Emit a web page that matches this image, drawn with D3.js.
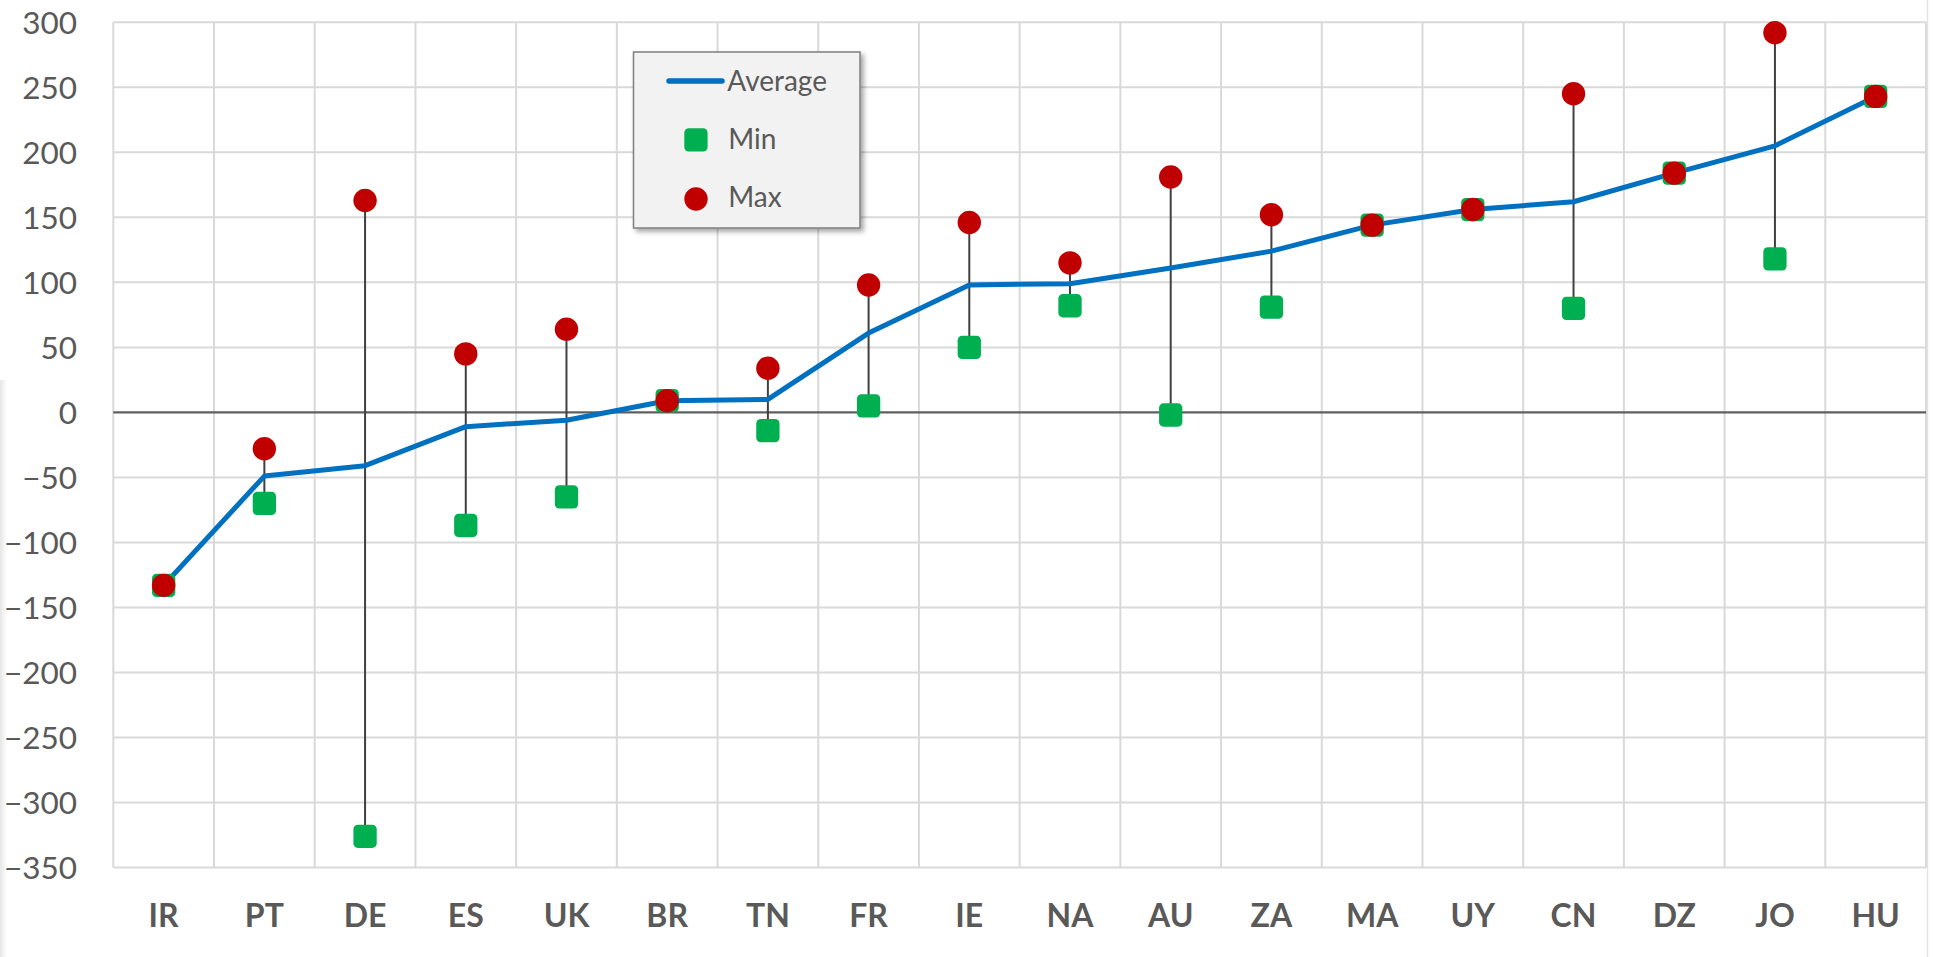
<!DOCTYPE html>
<html>
<head>
<meta charset="utf-8">
<script src="https://cdn.jsdelivr.net/npm/d3@7/dist/d3.min.js"></script>
<style>
  html, body { margin: 0; padding: 0; background: #ffffff; }
  svg { display: block; }
  text { font-family: Lato, "Open Sans", sans-serif; }
</style>
</head>
<body>
<svg id="chart" width="1933" height="957"></svg>
<script>
// Country codes along the x axis
const categories = ["IR", "PT", "DE", "ES", "UK", "BR", "TN", "FR", "IE", "NA", "AU", "ZA", "MA", "UY", "CN", "DZ", "JO", "HU"];
// Series values per country
const averageValues = [-133, -49, -41, -11, -6, 9, 10, 61, 98, 99, 111, 124, 144, 156, 162, 184, 205, 243];
const minValues     = [-133, -70, -326, -87, -65, 9, -14, 5, 50, 82, -2, 81, 144, 156, 80, 184, 118, 243];
const maxValues     = [-133, -28, 163, 45, 64, 9, 34, 98, 146, 115, 181, 152, 144, 156, 245, 184, 292, 243];
// Value axis ticks
const yTicks = [300, 250, 200, 150, 100, 50, 0, -50, -100, -150, -200, -250, -300, -350];

const svg = d3.select("#chart");
const W = 1933, H = 957;
const plot = { left: 113.3, right: 1926, top: 22.3, bottom: 867.5 };

const x = d3.scaleBand().domain(categories).range([plot.left, plot.right]).padding(0);
const y = d3.scaleLinear().domain([-350, 300]).range([plot.bottom, plot.top]);

const rows = categories.map((c, i) => ({ c, avg: averageValues[i], min: minValues[i], max: maxValues[i] }));

// Faint shading along the left edge of the canvas
const defs = svg.append("defs");
const edge = defs.append("linearGradient").attr("id", "edgeShade").attr("x1", 0).attr("x2", 1);
edge.append("stop").attr("offset", 0).attr("stop-color", "#e6e6e6");
edge.append("stop").attr("offset", 1).attr("stop-color", "#ffffff");
svg.append("rect").attr("x", 0).attr("y", 380).attr("width", 7).attr("height", H - 380).attr("fill", "url(#edgeShade)");
svg.append("line").attr("x1", 1927.5).attr("x2", 1927.5).attr("y1", 0).attr("y2", H)
  .attr("stroke", "#e4e4e4").attr("stroke-width", 1.5);

// Gridlines
const grid = svg.append("g");
grid.selectAll("line.h").data(yTicks.filter(t => t !== 0)).join("line")
  .attr("x1", plot.left).attr("x2", plot.right)
  .attr("y1", d => y(d)).attr("y2", d => y(d))
  .attr("stroke", "#d9d9d9").attr("stroke-width", 2);
const bounds = categories.map(c => x(c)).concat([plot.right]);
grid.selectAll("line.v").data(bounds).join("line")
  .attr("x1", d => d).attr("x2", d => d)
  .attr("y1", plot.top).attr("y2", plot.bottom)
  .attr("stroke", "#d9d9d9").attr("stroke-width", 2);

// Zero line
svg.append("line").attr("x1", plot.left).attr("x2", plot.right)
  .attr("y1", y(0)).attr("y2", y(0))
  .attr("stroke", "#5f5f5f").attr("stroke-width", 2.2);

// Y axis labels
const yAxis = d3.axisLeft(y).tickValues(yTicks).tickSize(0).tickPadding(0).tickFormat(d3.format("d"));
const yg = svg.append("g").attr("transform", "translate(77,0)").call(yAxis);
yg.select(".domain").remove();
yg.selectAll("text")
  .attr("font-family", "Lato, 'Open Sans', sans-serif")
  .attr("font-size", 31.5).attr("fill", "#595959")
  .attr("dy", "0.36em");

// X axis labels
const xAxis = d3.axisBottom(x).tickSize(0).tickPadding(0);
const xg = svg.append("g").attr("transform", "translate(0,926.7)").call(xAxis);
xg.select(".domain").remove();
xg.selectAll("text")
  .attr("font-family", "Lato, 'Open Sans', sans-serif")
  .attr("font-size", 32).attr("font-weight", "bold").attr("fill", "#595959")
  .attr("dy", 0).attr("y", 0);

const cx = d => x(d.c) + x.bandwidth() / 2;

// High-low lines between min and max
svg.append("g").selectAll("line").data(rows.filter(d => d.max !== d.min)).join("line")
  .attr("x1", cx).attr("x2", cx)
  .attr("y1", d => y(d.max)).attr("y2", d => y(d.min))
  .attr("stroke", "#404040").attr("stroke-width", 2);

// Average line
const line = d3.line().x(cx).y(d => y(d.avg));
svg.append("path").datum(rows).attr("d", line)
  .attr("fill", "none").attr("stroke", "#0070c0").attr("stroke-width", 5)
  .attr("stroke-linejoin", "round").attr("stroke-linecap", "round");

// Min markers
const sq = 23.3;
svg.append("g").selectAll("rect").data(rows).join("rect")
  .attr("x", d => cx(d) - sq / 2).attr("y", d => y(d.min) - sq / 2)
  .attr("width", sq).attr("height", sq).attr("rx", 4.5)
  .attr("fill", "#00b050");

// Max markers
svg.append("g").selectAll("circle").data(rows).join("circle")
  .attr("cx", cx).attr("cy", d => y(d.max)).attr("r", 11.7)
  .attr("fill", "#c00000");

// Legend
const shadow = defs.append("filter").attr("id", "legendShadow")
  .attr("x", "-10%").attr("y", "-10%").attr("width", "130%").attr("height", "130%");
shadow.append("feDropShadow").attr("dx", 3).attr("dy", 3).attr("stdDeviation", 2.5)
  .attr("flood-color", "#000").attr("flood-opacity", 0.35);

const lg = svg.append("g");
lg.append("rect").attr("x", 633.5).attr("y", 52).attr("width", 226.5).attr("height", 176)
  .attr("fill", "#f2f2f2").attr("stroke", "#7f7f7f").attr("stroke-width", 1.5)
  .attr("filter", "url(#legendShadow)");
lg.append("line").attr("x1", 669).attr("x2", 722).attr("y1", 81).attr("y2", 81)
  .attr("stroke", "#0070c0").attr("stroke-width", 5.5).attr("stroke-linecap", "round");
lg.append("rect").attr("x", 684.3).attr("y", 128.3).attr("width", sq).attr("height", sq).attr("rx", 4.5)
  .attr("fill", "#00b050");
lg.append("circle").attr("cx", 696).attr("cy", 199).attr("r", 11.7).attr("fill", "#c00000");
const legendLabels = [["Average", 727.3, 91], ["Min", 728.3, 149], ["Max", 728.3, 206.7]];
lg.selectAll("text.lab").data(legendLabels).join("text")
  .attr("x", d => d[1]).attr("y", d => d[2])
  .attr("font-size", 28).attr("fill", "#595959")
  .text(d => d[0]);
</script>
</body>
</html>
